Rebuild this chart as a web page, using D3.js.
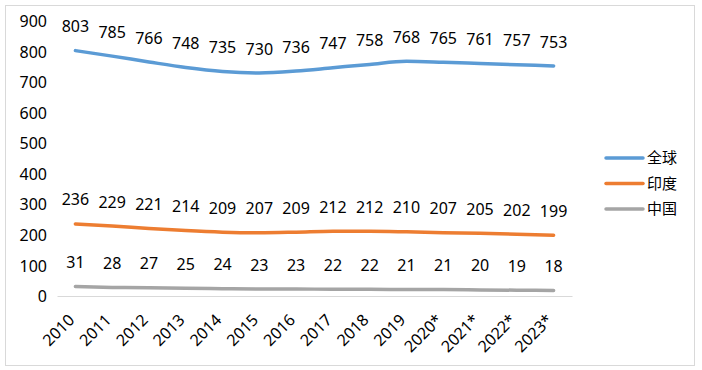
<!DOCTYPE html>
<html>
<head>
<meta charset="utf-8">
<script src="https://cdn.jsdelivr.net/npm/d3@7"></script>
<style>
  body { margin: 0; background: #fff; }
  svg text { font-family: "Microsoft YaHei", "Noto Sans", "Noto Sans CJK SC", sans-serif; fill: #000; }
</style>
</head>
<body>
<div id="chart"></div>
<script>
// chart data
const years = ['2010', '2011', '2012', '2013', '2014', '2015', '2016', '2017', '2018', '2019', '2020*', '2021*', '2022*', '2023*'];
const world = [803, 785, 766, 748, 735, 730, 736, 747, 758, 768, 765, 761, 757, 753];
const india = [236, 229, 221, 214, 209, 207, 209, 212, 212, 210, 207, 205, 202, 199];
const china = [31, 28, 27, 25, 24, 23, 23, 22, 22, 21, 21, 20, 19, 18];
const seriesNames = ['全球', '印度', '中国'];
const colors = ['#5B9BD5', '#ED7D31', '#A5A5A5'];
const yTicks = [0, 100, 200, 300, 400, 500, 600, 700, 800, 900];

const W = 702, H = 370;
const series = [world, india, china];

const svg = d3.select('#chart').append('svg')
  .attr('width', W)
  .attr('height', H);

// outer frame
svg.append('rect')
  .attr('x', 5.5).attr('y', 5.5)
  .attr('width', 689).attr('height', 360)
  .attr('fill', '#fff')
  .attr('stroke', '#d9d9d9');

const x = d3.scaleBand().domain(years).range([57, 572]);
const y = d3.scaleLinear().domain([0, 900]).range([296, 21]);

// y axis labels (no line, no gridlines)
const yAxis = svg.append('g')
  .attr('transform', 'translate(47,0)')
  .call(d3.axisLeft(y).tickValues(yTicks).tickSize(0).tickPadding(0));
yAxis.select('.domain').remove();
yAxis.selectAll('text').style('font-size', '16px').attr('dy', '0.35em');

// x axis
const xAxis = svg.append('g')
  .attr('transform', `translate(0,${y(0)})`)
  .call(d3.axisBottom(x).tickSize(0));
xAxis.select('.domain').attr('stroke', '#d9d9d9');
xAxis.selectAll('text')
  .style('font-size', '16px')
  .attr('text-anchor', 'end')
  .attr('y', 0)
  .attr('dy', null)
  .attr('transform', 'translate(0,25) rotate(-45)');

// lines
const line = d3.line()
  .x((d, i) => x(years[i]) + x.bandwidth() / 2)
  .y(d => y(d))
  .curve(d3.curveMonotoneX);

series.forEach((vals, k) => {
  svg.append('path')
    .datum(vals)
    .attr('fill', 'none')
    .attr('stroke', colors[k])
    .attr('stroke-width', 3.5)
    .attr('stroke-linecap', 'round')
    .attr('d', line);

  svg.append('g').selectAll('text')
    .data(vals)
    .join('text')
    .attr('x', (d, i) => x(years[i]) + x.bandwidth() / 2)
    .attr('y', d => y(d) - 24)
    .attr('dy', '0.35em')
    .attr('text-anchor', 'middle')
    .style('font-size', '16px')
    .text(d => d);
});

// legend
const legend = svg.append('g').selectAll('g')
  .data(seriesNames)
  .join('g')
  .attr('transform', (d, i) => `translate(606,${158 + i * 25.5})`);
legend.append('line')
  .attr('x1', 0).attr('x2', 37)
  .attr('stroke', (d, i) => colors[i])
  .attr('stroke-width', 3.5)
  .attr('stroke-linecap', 'round');
legend.append('text')
  .attr('x', 41)
  .attr('dy', '0.35em')
  .style('font-size', '15px')
  .text(d => d);
</script>
</body>
</html>
